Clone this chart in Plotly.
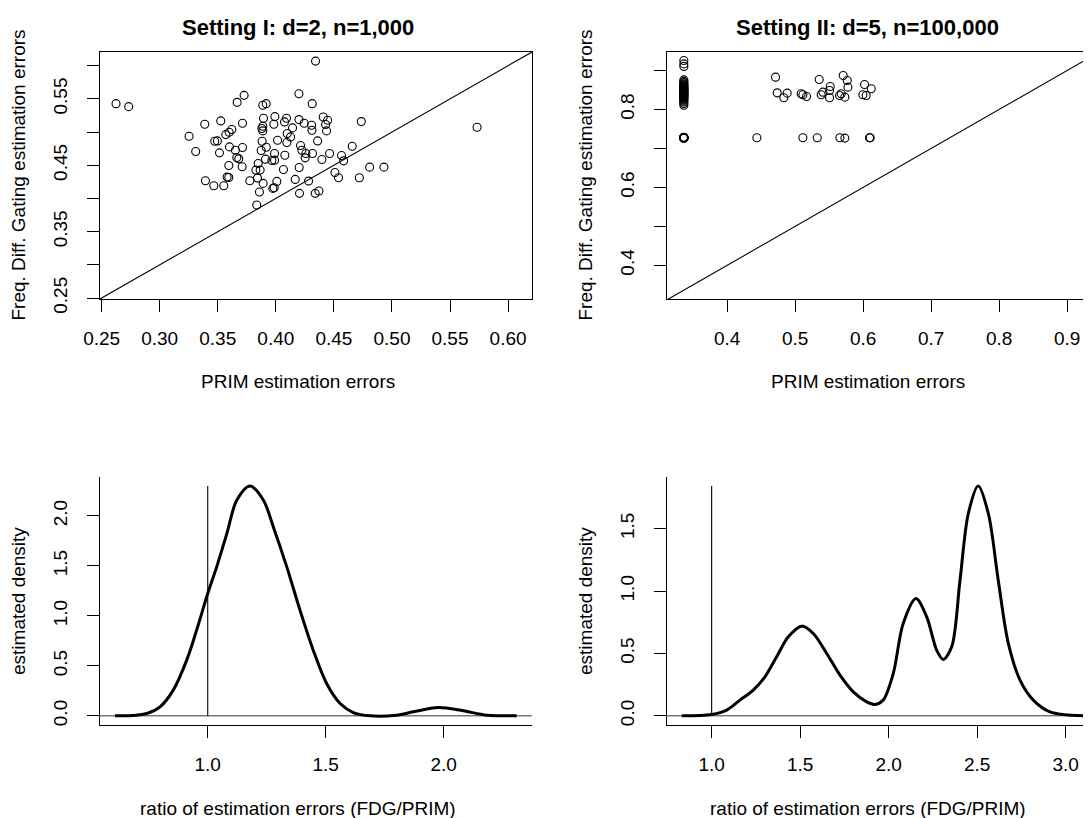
import plotly.graph_objects as go

# ---------------- data ----------------
# Setting I scatter (PRIM error vs FDG error)
prim_1 = [0.2624, 0.2733, 0.4342, 0.5733, 0.3727, 0.3667, 0.4199, 0.4313, 0.3888, 0.3917,
          0.3388, 0.3526, 0.3713, 0.3253, 0.3310, 0.3474, 0.3497, 0.3515, 0.3569, 0.3598,
          0.3621, 0.3601, 0.3652, 0.3664, 0.3681, 0.3713, 0.3595, 0.3710, 0.3394, 0.3466,
          0.3552, 0.3581, 0.3595, 0.3776, 0.3836, 0.3859, 0.3842, 0.3891, 0.3828, 0.3865,
          0.3848, 0.3974, 0.3986, 0.4009, 0.3874, 0.3911, 0.3966, 0.3989, 0.3989, 0.3918,
          0.3882, 0.4015, 0.3888, 0.3880, 0.3888, 0.3894, 0.3983, 0.3992, 0.4075, 0.4092,
          0.4098, 0.4127, 0.4144, 0.4095, 0.4078, 0.4066, 0.4167, 0.4199, 0.4244, 0.4308,
          0.4311, 0.4360, 0.4213, 0.4224, 0.4259, 0.4253, 0.4316, 0.4201, 0.4282, 0.4204,
          0.4339, 0.4371, 0.4397, 0.4463, 0.4408, 0.4446, 0.4429, 0.4437, 0.4509, 0.4540,
          0.4566, 0.4584, 0.4658, 0.4736, 0.4719, 0.4808, 0.4931]
fdg_1 = [0.5428, 0.5383, 0.6069, 0.5073, 0.5553, 0.5448, 0.5578, 0.5428, 0.5403, 0.5428,
         0.5118, 0.5168, 0.5133, 0.4937, 0.4707, 0.4862, 0.4867, 0.4687, 0.4962, 0.4998,
         0.5038, 0.4777, 0.4727, 0.4617, 0.4597, 0.4767, 0.4497, 0.4477, 0.4267, 0.4192,
         0.4192, 0.4322, 0.4317, 0.4267, 0.3901, 0.4097, 0.4307, 0.4227, 0.4427, 0.4427,
         0.4527, 0.4152, 0.4162, 0.4257, 0.4722, 0.4592, 0.4572, 0.4577, 0.4677, 0.4772,
         0.4862, 0.4877, 0.5018, 0.5053, 0.5088, 0.5208, 0.5118, 0.5233, 0.5153, 0.5208,
         0.4978, 0.4927, 0.5063, 0.4842, 0.4652, 0.4437, 0.4287, 0.5188, 0.5133, 0.5103,
         0.5028, 0.4867, 0.4797, 0.4727, 0.4677, 0.4612, 0.4677, 0.4467, 0.4262, 0.4077,
         0.4077, 0.4112, 0.4587, 0.4677, 0.5228, 0.5178, 0.5113, 0.5018, 0.4392, 0.4312,
         0.4647, 0.4567, 0.4787, 0.5158, 0.4312, 0.4472, 0.4472]

# Setting II scatter
prim_2 = ([0.3362] * 3 + [0.3362] * 34 +
          [0.3358, 0.3360, 0.3362, 0.3364, 0.3366, 0.3360, 0.3364, 0.3362, 0.3358, 0.3366] +
          [0.4436, 0.4711, 0.4735, 0.4833, 0.4882, 0.5088, 0.5113, 0.5167, 0.5113, 0.5324,
           0.5353, 0.5382, 0.5407, 0.5505, 0.5515, 0.5505, 0.5652, 0.5676, 0.5706, 0.5730,
           0.5765, 0.5775, 0.5657, 0.5730, 0.6020, 0.5995, 0.6044, 0.6118, 0.6093, 0.6103])
fdg_2 = ([0.9256, 0.9170, 0.9105] +
         [0.876, 0.872, 0.869, 0.866, 0.864, 0.862, 0.860, 0.858, 0.856, 0.855,
          0.853, 0.852, 0.850, 0.849, 0.848, 0.846, 0.845, 0.844, 0.842, 0.841,
          0.840, 0.838, 0.837, 0.836, 0.834, 0.833, 0.831, 0.829, 0.827, 0.825,
          0.822, 0.819, 0.815, 0.811] +
         [0.7285, 0.7280, 0.7276, 0.7274, 0.7272, 0.7270, 0.7268, 0.7265, 0.7262, 0.7278] +
         [0.7274, 0.8829, 0.8427, 0.8299, 0.8419, 0.8402, 0.8376, 0.8333, 0.7274, 0.7274,
          0.8769, 0.8376, 0.8444, 0.8487, 0.8590, 0.8299, 0.8359, 0.8402, 0.8872, 0.8316,
          0.8744, 0.8573, 0.7274, 0.7265, 0.8641, 0.8376, 0.8359, 0.8530, 0.7274, 0.7274])

# density of ratio (Setting I)
dens1_x = [0.607, 0.680, 0.742, 0.798, 0.854, 0.911, 0.953, 1.0, 1.038, 1.081, 1.123, 1.179,
           1.236, 1.278, 1.335, 1.391, 1.447, 1.504, 1.561, 1.617, 1.688, 1.80, 1.871, 1.977,
           2.083, 2.182, 2.309]
dens1_y = [0.0, 0.003, 0.023, 0.09, 0.257, 0.557, 0.857, 1.223, 1.49, 1.823, 2.157, 2.30,
           2.157, 1.89, 1.49, 1.057, 0.657, 0.323, 0.123, 0.033, 0.0, 0.007, 0.04, 0.083,
           0.05, 0.007, 0.0]

# density of ratio (Setting II)
dens2_x = [0.831, 1.0, 1.085, 1.160, 1.235, 1.301, 1.367, 1.433, 1.508, 1.574, 1.650, 1.725,
           1.800, 1.876, 1.923, 1.969, 2.026, 2.082, 2.154, 2.215, 2.271, 2.308, 2.356, 2.403,
           2.450, 2.506, 2.563, 2.619, 2.676, 2.742, 2.817, 2.911, 3.099]
dens2_y = [0.0, 0.011, 0.046, 0.126, 0.206, 0.313, 0.473, 0.633, 0.719, 0.66, 0.5, 0.326,
           0.192, 0.112, 0.091, 0.126, 0.34, 0.74, 0.941, 0.793, 0.526, 0.452, 0.553, 1.087,
           1.622, 1.843, 1.622, 1.087, 0.58, 0.286, 0.126, 0.032, 0.0]

ref_ratio = 1.0

titles = ["Setting I: d=2, n=1,000", "Setting II: d=5, n=100,000"]
xlab_top = "PRIM estimation errors"
ylab_top = "Freq. Diff. Gating estimation errors"
xlab_bot = "ratio of estimation errors (FDG/PRIM)"
ylab_bot = "estimated density"

tl_ticks = [0.25, 0.30, 0.35, 0.40, 0.45, 0.50, 0.55, 0.60]
tl_xtext = ["0.25", "0.30", "0.35", "0.40", "0.45", "0.50", "0.55", "0.60"]
tl_ytext = ["0.25", "", "0.35", "", "0.45", "", "0.55", ""]
tr_ticks = [0.4, 0.5, 0.6, 0.7, 0.8, 0.9]
tr_xtext = ["0.4", "0.5", "0.6", "0.7", "0.8", "0.9"]
tr_ytext = ["0.4", "", "0.6", "", "0.8", ""]
bl_xticks = [1.0, 1.5, 2.0]
bl_xtext = ["1.0", "1.5", "2.0"]
bl_yticks = [0.0, 0.5, 1.0, 1.5, 2.0]
bl_ytext = ["0.0", "0.5", "1.0", "1.5", "2.0"]
br_xticks = [1.0, 1.5, 2.0, 2.5, 3.0]
br_xtext = ["1.0", "1.5", "2.0", "2.5", "3.0"]
br_yticks = [0.0, 0.5, 1.0, 1.5]
br_ytext = ["0.0", "0.5", "1.0", "1.5"]

# ---------------- figure ----------------
OFF = 8                      # page body margin of the html page
W, H = 1091 - OFF, 818 - OFF
FONT = "Liberation Sans, Arial, sans-serif"

def px_x(p):
    return (p - OFF) / W

def px_y(p):
    return 1 - (p - OFF) / H

fig = go.Figure()

marker = dict(symbol="circle-open", size=8, color="black", line=dict(width=1.1, color="black"))

# Panel 1
fig.add_trace(go.Scatter(x=[0, 1], y=[0, 1], mode="lines", line=dict(color="black", width=1.1),
                         xaxis="x", yaxis="y", hoverinfo="skip"))
fig.add_trace(go.Scatter(x=prim_1, y=fdg_1, mode="markers", marker=marker, xaxis="x", yaxis="y"))
# Panel 2
fig.add_trace(go.Scatter(x=[0, 1], y=[0, 1], mode="lines", line=dict(color="black", width=1.1),
                         xaxis="x2", yaxis="y2", hoverinfo="skip"))
fig.add_trace(go.Scatter(x=prim_2, y=fdg_2, mode="markers", marker=marker, xaxis="x2", yaxis="y2"))
# Panel 3
fig.add_trace(go.Scatter(x=[0.4, 2.5], y=[0, 0], mode="lines", line=dict(color="black", width=0.8),
                         xaxis="x3", yaxis="y3", hoverinfo="skip"))
fig.add_trace(go.Scatter(x=[ref_ratio, ref_ratio], y=[0, max(dens1_y)], mode="lines",
                         line=dict(color="black", width=1.1), xaxis="x3", yaxis="y3"))
fig.add_trace(go.Scatter(x=dens1_x, y=dens1_y, mode="lines",
                         line=dict(color="black", width=3, shape="spline", smoothing=0.9),
                         xaxis="x3", yaxis="y3"))
# Panel 4
fig.add_trace(go.Scatter(x=[0.5, 3.3], y=[0, 0], mode="lines", line=dict(color="black", width=0.8),
                         xaxis="x4", yaxis="y4", hoverinfo="skip"))
fig.add_trace(go.Scatter(x=[ref_ratio, ref_ratio], y=[0, max(dens2_y)], mode="lines",
                         line=dict(color="black", width=1.1), xaxis="x4", yaxis="y4"))
fig.add_trace(go.Scatter(x=dens2_x, y=dens2_y, mode="lines",
                         line=dict(color="black", width=3, shape="spline", smoothing=0.9),
                         xaxis="x4", yaxis="y4"))

def ax(domain, rng, tickvals, ticktext, anchor, mirror, angle=0, standoff=10):
    return dict(domain=domain, range=rng, tickvals=tickvals, ticktext=ticktext, anchor=anchor,
                automargin=False,
                showgrid=False, zeroline=False, showline=True, linecolor="black", linewidth=1.2,
                mirror=mirror, ticks="outside", ticklen=12, tickwidth=1.2, tickcolor="black",
                tickangle=angle, ticklabelstandoff=standoff,
                tickfont=dict(family=FONT, size=19, color="black"), fixedrange=True)

L1, R1 = px_x(100), px_x(532)
L2, R2 = px_x(666.7), 1.0
TOPD = [px_y(299), px_y(52)]
BOTD = [px_y(725), px_y(476.7)]

fig.update_layout(
    width=W, height=H, margin=dict(l=0, r=0, t=0, b=0, autoexpand=False),
    paper_bgcolor="white", plot_bgcolor="white", showlegend=False,
    xaxis=ax([L1, R1], [0.2486, 0.6206], tl_ticks, tl_xtext, "y", True),
    yaxis=ax(TOPD, [0.2486, 0.6206], tl_ticks, tl_ytext, "x", True, -90, 12),
    xaxis2=ax([L2, R2], [0.311, 0.935], tr_ticks, tr_xtext, "y2", True),
    yaxis2=ax(TOPD, [0.3135, 0.9475], tr_ticks, tr_ytext, "x2", False, -90, 12),
    xaxis3=ax([L1, R1], [0.5436, 2.374], bl_xticks, bl_xtext, "y3", False),
    yaxis3=ax(BOTD, [-0.0916, 2.392], bl_yticks, bl_ytext, "x3", False, -90, 12),
    xaxis4=ax([L2, R2], [0.746, 3.143], br_xticks, br_xtext, "y4", False),
    yaxis4=ax(BOTD, [-0.0737, 1.917], br_yticks, br_ytext, "x4", False, -90, 12),
)

def ann(text, x, y, size=19, bold=False, angle=0):
    fig.add_annotation(text=f"<b>{text}</b>" if bold else text, x=px_x(x), y=px_y(y),
                       xref="paper", yref="paper", showarrow=False, textangle=angle,
                       xanchor="center", yanchor="middle",
                       font=dict(family=FONT, size=size, color="black"))

ann(titles[0], 298, 27, size=22, bold=True)
ann(titles[1], 867.5, 27, size=22, bold=True)
ann(xlab_top, 298, 382)
ann(xlab_top, 867.5, 382)
ann(ylab_top, 18, 175.5, angle=-90)
ann(ylab_top, 585, 175.5, angle=-90)
ann(xlab_bot, 298, 808)
ann(xlab_bot, 867.5, 808)
ann(ylab_bot, 18, 601, angle=-90)
ann(ylab_bot, 585, 601, angle=-90)

fig.write_html("out.html")
